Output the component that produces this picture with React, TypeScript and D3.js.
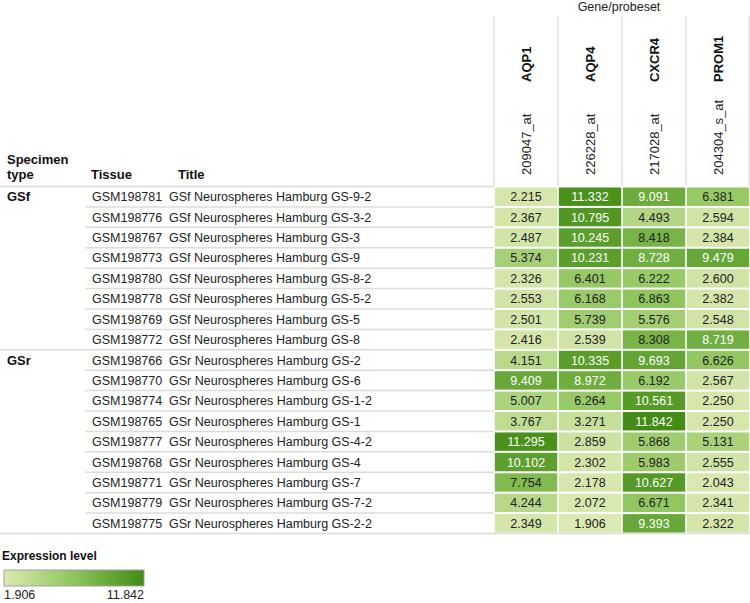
import React from "react";
import * as d3 from "d3";

const genes = ["AQP1", "AQP4", "CXCR4", "PROM1"];
const probes = ["209047_at", "226228_at", "217028_at", "204304_s_at"];
const samples = [
  "GSM198781", "GSM198776", "GSM198767", "GSM198773", "GSM198780", "GSM198778", "GSM198769", "GSM198772",
  "GSM198766", "GSM198770", "GSM198774", "GSM198765", "GSM198777", "GSM198768", "GSM198771", "GSM198779", "GSM198775",
];
const titles = [
  "GSf Neurospheres Hamburg GS-9-2", "GSf Neurospheres Hamburg GS-3-2", "GSf Neurospheres Hamburg GS-3",
  "GSf Neurospheres Hamburg GS-9", "GSf Neurospheres Hamburg GS-8-2", "GSf Neurospheres Hamburg GS-5-2",
  "GSf Neurospheres Hamburg GS-5", "GSf Neurospheres Hamburg GS-8",
  "GSr Neurospheres Hamburg GS-2", "GSr Neurospheres Hamburg GS-6", "GSr Neurospheres Hamburg GS-1-2",
  "GSr Neurospheres Hamburg GS-1", "GSr Neurospheres Hamburg GS-4-2", "GSr Neurospheres Hamburg GS-4",
  "GSr Neurospheres Hamburg GS-7", "GSr Neurospheres Hamburg GS-7-2", "GSr Neurospheres Hamburg GS-2-2",
];
const specimenTypes = ["GSf", "GSr"];
const groupSizes = [8, 9];

const aqp1 = [2.215, 2.367, 2.487, 5.374, 2.326, 2.553, 2.501, 2.416, 4.151, 9.409, 5.007, 3.767, 11.295, 10.102, 7.754, 4.244, 2.349];
const aqp4 = [11.332, 10.795, 10.245, 10.231, 6.401, 6.168, 5.739, 2.539, 10.335, 8.972, 6.264, 3.271, 2.859, 2.302, 2.178, 2.072, 1.906];
const cxcr4 = [9.091, 4.493, 8.418, 8.728, 6.222, 6.863, 5.576, 8.308, 9.693, 6.192, 10.561, 11.842, 5.868, 5.983, 10.627, 6.671, 9.393];
const prom1 = [6.381, 2.594, 2.384, 9.479, 2.6, 2.382, 2.548, 8.719, 6.626, 2.567, 2.25, 2.25, 5.131, 2.555, 2.043, 2.341, 2.322];
const seriesValues = [aqp1, aqp4, cxcr4, prom1];

const FONT = "'Liberation Sans', Arial, sans-serif";

export default function App() {
  const all = seriesValues.flat();
  const vMin = d3.min(all) as number;
  const vMax = d3.max(all) as number;
  const color = d3
    .scaleLinear<string>()
    .domain([vMin, (vMin + vMax) / 2, vMax])
    .range(["#dbe9b2", "#8fc55d", "#428b14"])
    .interpolate(d3.interpolateRgb);

  const x = d3.scaleBand<string>().domain(genes).range([494, 750]);
  const y = d3.scaleBand<string>().domain(samples).range([186.5, 533.5]);
  const rh = y.bandwidth();

  const groupStarts: number[] = [];
  let acc = 0;
  groupSizes.forEach((s) => {
    groupStarts.push(acc);
    acc += s;
  });

  const legendX = d3.scaleLinear().domain([vMin, vMax]).range([4, 144]);
  const stops = d3.range(0, 1.0001, 0.1).map((t) => ({ t, c: color(vMin + t * (vMax - vMin)) }));

  return (
    <svg
      width={750}
      height={603}
      style={{ position: "absolute", left: 0, top: 0, display: "block", background: "#fff" }}
      fontFamily={FONT}
    >
      <defs>
        <linearGradient id="lg" x1="0" x2="1" y1="0" y2="0">
          {stops.map((s, i) => (
            <stop key={i} offset={`${s.t * 100}%`} stopColor={s.c} />
          ))}
        </linearGradient>
      </defs>

      {/* header */}
      <text x={(x.range()[0] + x.range()[1]) / 2 - 3} y={11} fontSize={12.5} textAnchor="middle" fill="#222">
        Gene/probeset
      </text>
      {genes.map((g) => (
        <line key={"v" + g} x1={x(g)!} x2={x(g)!} y1={16} y2={186} stroke="#e2e2e2" strokeWidth={1.5} />
      ))}
      <line x1={749} x2={749} y1={16} y2={186} stroke="#e2e2e2" strokeWidth={1.5} />
      {genes.map((g, i) => {
        const cx = x(g)! + x.bandwidth() / 2 + 4.5;
        return (
          <g key={"h" + g}>
            <text transform={`translate(${cx},175) rotate(-90)`} fontSize={13} fill="#222">
              {probes[i]}
            </text>
            <text transform={`translate(${cx},82) rotate(-90)`} fontSize={13} fontWeight="bold" fill="#111">
              {g}
            </text>
          </g>
        );
      })}
      <text x={7} y={164} fontSize={13} fontWeight="bold" fill="#111">Specimen</text>
      <text x={7} y={179} fontSize={13} fontWeight="bold" fill="#111">type</text>
      <text x={91} y={179} fontSize={13} fontWeight="bold" fill="#111">Tissue</text>
      <text x={178} y={179} fontSize={13} fontWeight="bold" fill="#111">Title</text>

      {/* row lines */}
      {samples.map((s, i) => {
        const yy = y(s)!;
        const isGroupStart = groupStarts.includes(i);
        return (
          <line
            key={"rl" + s}
            x1={isGroupStart ? 0 : 85}
            x2={494}
            y1={yy}
            y2={yy}
            stroke="#dcdcdc"
            strokeWidth={1.5}
          />
        );
      })}
      <line x1={0} x2={750} y1={533.5} y2={533.5} stroke="#dcdcdc" strokeWidth={1.5} />

      {/* group labels */}
      {specimenTypes.map((t, gi) => (
        <text key={t} x={7} y={y(samples[groupStarts[gi]])! + rh / 2 + 4.5} fontSize={13} fontWeight="bold" fill="#111">
          {t}
        </text>
      ))}

      {/* tissue & title */}
      {samples.map((s, i) => (
        <g key={"t" + s}>
          <text x={92} y={y(s)! + rh / 2 + 4.5} fontSize={12.5} fill="#222">{s}</text>
          <text x={169} y={y(s)! + rh / 2 + 4.5} fontSize={12.5} fill="#222">{titles[i]}</text>
        </g>
      ))}

      {/* cells */}
      {genes.map((g, gi) =>
        samples.map((s, si) => {
          const v = seriesValues[gi][si];
          const t = (v - vMin) / (vMax - vMin);
          return (
            <g key={g + s}>
              <rect
                x={x(g)! + 0.8}
                y={y(s)! + 1}
                width={x.bandwidth() - 1.6}
                height={rh - 2}
                fill={color(v)}
              />
              <text
                x={x(g)! + x.bandwidth() / 2}
                y={y(s)! + rh / 2 + 4.5}
                fontSize={12.5}
                textAnchor="middle"
                fill={t > 0.66 ? "#fff" : "#222"}
              >
                {v.toFixed(3)}
              </text>
            </g>
          );
        })
      )}

      {/* legend */}
      <text x={2} y={560} fontSize={12} fontWeight="bold" fill="#111">Expression level</text>
      <rect
        x={legendX(vMin)}
        y={570}
        width={legendX(vMax) - legendX(vMin)}
        height={16}
        fill="url(#lg)"
        stroke="#a0a0a0"
        strokeWidth={1}
      />
      <text x={legendX(vMin)} y={599} fontSize={12.5} fill="#222">{vMin.toFixed(3)}</text>
      <text x={legendX(vMax)} y={599} fontSize={12.5} textAnchor="end" fill="#222">{vMax.toFixed(3)}</text>
    </svg>
  );
}
